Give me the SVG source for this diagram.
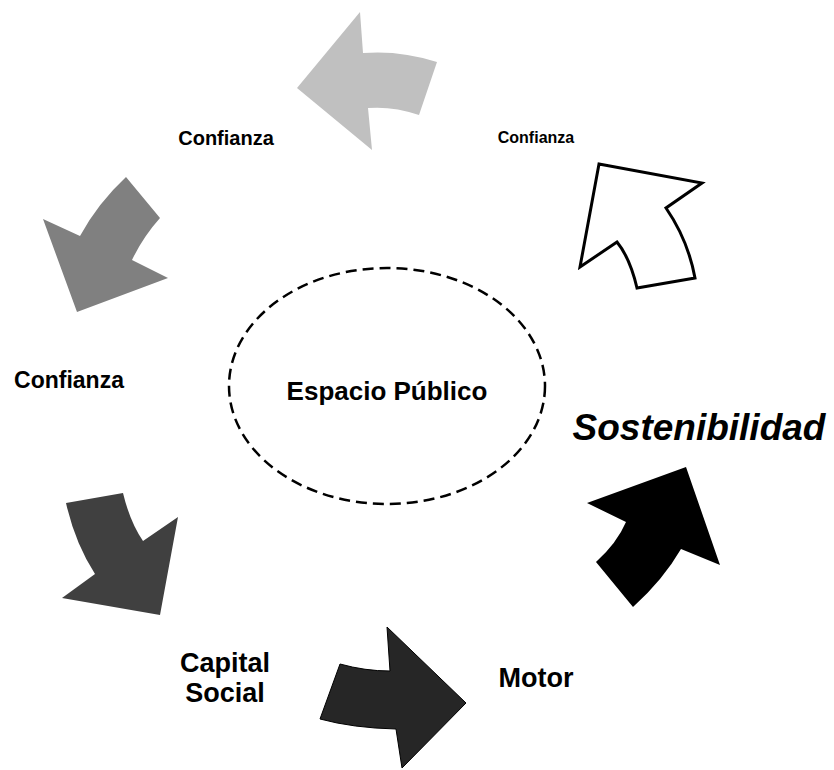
<svg xmlns="http://www.w3.org/2000/svg" width="834" height="770" viewBox="0 0 834 770">
<style>
text{font-family:"Liberation Sans",Arial,sans-serif;font-weight:bold;fill:#000}
</style>
<rect width="834" height="770" fill="#fff"/>
<g id="connectors">
<path id="a1" d="M297,88 L360,12 L363,53 Q400,50 437,62 L419,115 Q393,106 368,108 L372,150 Z" fill="#c0c0c0"/>
<path id="a2" d="M599,164 L702,183 L666,208 Q688,240 695,278 L637,288 Q630,258 617,242 L580,267 Z" fill="#fff" stroke="#000" stroke-width="3" stroke-linejoin="miter"/>
<path id="a3" d="M126,177 L160,218 Q143,237 132,260 L168,278 L77,312 L43,219 L80,236 Q98,203 126,177 Z" fill="#808080"/>
<path id="a4" d="M66,503 L123,493 Q130,522 143,541 L178,517 L160,615 L62,598 L95,574 Q75,543 66,503 Z" fill="#404040"/>
<path id="a5" d="M340,664 Q365,671 390,671 L387,627 L466,703 L402,768 L396,729 Q353,728 320,719 Z" fill="#262626" stroke="#000" stroke-width="1"/>
<path id="a6" d="M587,503 L686,467 L720,565 L681,549 Q663,580 633,607 L596,562 Q617,543 626,522 Z" fill="#000"/>
</g>
<g id="espacio">
<ellipse cx="387" cy="386" rx="158" ry="118" fill="none" stroke="#000" stroke-width="2.5" stroke-dasharray="11,6"/>
<text x="387" y="400" font-size="26" text-anchor="middle">Espacio Público</text>
</g>
<g id="confianza1"><text x="226" y="145" font-size="20" text-anchor="middle">Confianza</text></g>
<g id="confianza2"><text x="536" y="143" font-size="16" text-anchor="middle">Confianza</text></g>
<g id="confianza3"><text x="69" y="388" font-size="23" text-anchor="middle">Confianza</text></g>
<g id="sostenibilidad"><text x="699" y="440" font-size="37" font-style="italic" text-anchor="middle">Sostenibilidad</text></g>
<g id="capital"><text x="225" y="672" font-size="27" text-anchor="middle">Capital</text><text x="225" y="702" font-size="27" text-anchor="middle">Social</text></g>
<g id="motor"><text x="536" y="687" font-size="27" text-anchor="middle">Motor</text></g>
</svg>
